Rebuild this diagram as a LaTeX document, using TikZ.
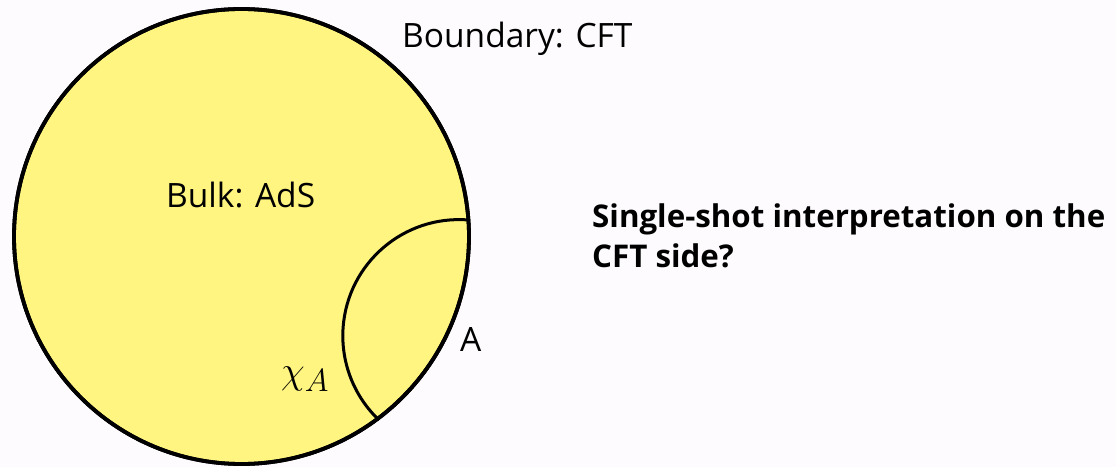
\documentclass[tikz,border=0pt]{standalone}
\usepackage{graphicx}
\usepackage{fontspec}
\setmainfont{Open Sans}
\definecolor{bulkyellow}{RGB}{255,245,128}
\definecolor{bgwhite}{RGB}{253,251,254}
\begin{document}
\begin{tikzpicture}[x=1pt,y=1pt,
  lbl/.style={inner sep=0pt, font=\fontsize{33.5}{38}\selectfont},
  qtext/.style={inner sep=0pt, align=left, font=\fontsize{31.3}{40}\selectfont\bfseries}]
\fill[bgwhite] (0,0) rectangle (1116,467);
\useasboundingbox (0,0) rectangle (1116,467);
\node (bulk) [circle, draw, line width=3.8pt, fill=bulkyellow, minimum size=455pt, inner sep=0pt] at (241.5,230.5) {};
\coordinate (rtc) at (459,131.2);
\draw[line width=3pt] ([shift={(85.6:116.2)}]rtc) arc[start angle=85.6, end angle=226.5, radius=116.2];
\draw[line width=3.8pt] (bulk.center) circle[radius=227.5];
\node (bnd) [lbl, anchor=base west] at (402,419) {Boundary: CFT};
\node (bk) [lbl, anchor=base west] at (166,260) {Bulk: AdS};
\node (a) [lbl, anchor=base west] at (460,116) {A};
\node (chi) [inner sep=0pt, anchor=base west, font=\fontsize{24.88}{30}\selectfont] at (281,84) {\scalebox{1.55}{$\chi_A$}};
\node (q) [qtext, anchor=base west] at (592,200) {Single-shot interpretation on the\\CFT side?};
\end{tikzpicture}
\end{document}
